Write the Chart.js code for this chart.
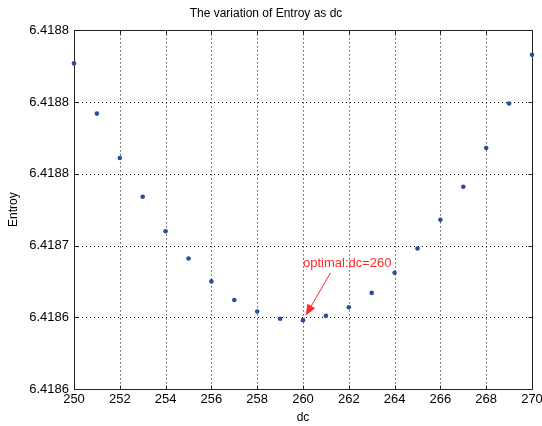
<!DOCTYPE html>
<html><head><meta charset="utf-8">
<script src="https://cdn.jsdelivr.net/npm/chart.js@4/dist/chart.umd.min.js"></script>
<style>html,body{margin:0;padding:0;background:#fff}</style>
</head><body>
<canvas id="c" width="542" height="426"></canvas>
<script>
// ---- data ----
const dcValues = [250,251,252,253,254,255,256,257,258,259,260,261,262,263,264,265,266,267,268,269,270];
const entropyValues = [6.418777,6.418742,6.418711,6.418684,6.418660,6.418641,6.418625,6.418612,6.418604,6.418599,6.418598,6.418601,6.418607,6.418617,6.418631,6.418648,6.418668,6.418691,6.418718,6.418749,6.418783];
const xTickValues = [250,252,254,256,258,260,262,264,266,268,270];
const yTickValues = [6.41855,6.41860,6.41865,6.41870,6.41875,6.41880];
const yTickLabels = ["6.4186","6.4186","6.4187","6.4188","6.4188","6.4188"];
const chartTitle = "The variation of Entroy as dc";
const xLabel = "dc";
const yLabel = "Entroy";
const annotationText = "optimal:dc=260";
const annotationTextAt = [260.0, 6.418635];
const arrowFrom = [261.2, 6.418631];
const arrowTo = [260.12, 6.4186012];

const FONT = "'Liberation Sans', Arial, sans-serif";

const matlabAxes = {
  id: 'matlabAxes',
  beforeDatasetsDraw(chart) {
    const {ctx, chartArea: a, scales: {x, y}} = chart;
    ctx.save();
    ctx.strokeStyle = '#000';
    ctx.lineWidth = 1;
    ctx.setLineDash([1, 3]);
    xTickValues.forEach(v => {
      const px = Math.round(x.getPixelForValue(v)) + 0.5;
      if (px < a.left + 2 || px > a.right - 2) return;
      ctx.beginPath(); ctx.moveTo(px, a.top); ctx.lineTo(px, a.bottom); ctx.stroke();
    });
    yTickValues.forEach(v => {
      const py = Math.round(y.getPixelForValue(v)) + 0.5;
      if (py < a.top + 2 || py > a.bottom - 2) return;
      ctx.beginPath(); ctx.moveTo(a.left, py); ctx.lineTo(a.right, py); ctx.stroke();
    });
    ctx.setLineDash([]);
    ctx.strokeStyle = '#222';
    const L = Math.round(a.left) + 0.5, R = Math.round(a.right) + 0.5,
          T = Math.round(a.top) + 0.5, B = Math.round(a.bottom) + 0.5;
    ctx.strokeRect(L, T, R - L, B - T);
    const tl = 4;
    xTickValues.forEach(v => {
      const px = Math.round(x.getPixelForValue(v)) + 0.5;
      ctx.beginPath(); ctx.moveTo(px, B); ctx.lineTo(px, B - tl);
      ctx.moveTo(px, T); ctx.lineTo(px, T + tl); ctx.stroke();
    });
    yTickValues.forEach(v => {
      const py = Math.round(y.getPixelForValue(v)) + 0.5;
      ctx.beginPath(); ctx.moveTo(L, py); ctx.lineTo(L + tl, py);
      ctx.moveTo(R, py); ctx.lineTo(R - tl, py); ctx.stroke();
    });
    ctx.restore();
  },
  afterDatasetsDraw(chart) {
    const {ctx, scales: {x, y}} = chart;
    ctx.save();
    ctx.fillStyle = '#ff2a2a';
    ctx.strokeStyle = '#ff2a2a';
    ctx.font = "13px " + FONT;
    ctx.textBaseline = 'alphabetic';
    ctx.textAlign = 'left';
    ctx.fillText(annotationText, x.getPixelForValue(annotationTextAt[0]), y.getPixelForValue(annotationTextAt[1]));
    const x1 = x.getPixelForValue(arrowFrom[0]), y1 = y.getPixelForValue(arrowFrom[1]);
    const x2 = x.getPixelForValue(arrowTo[0]), y2 = y.getPixelForValue(arrowTo[1]);
    const ang = Math.atan2(y2 - y1, x2 - x1);
    const hl = 11, hw = 4.5;
    const bx = x2 - hl * Math.cos(ang), by = y2 - hl * Math.sin(ang);
    ctx.lineWidth = 1;
    ctx.beginPath(); ctx.moveTo(x1, y1); ctx.lineTo(bx, by); ctx.stroke();
    ctx.beginPath();
    ctx.moveTo(x2, y2);
    ctx.lineTo(bx + hw * Math.sin(ang), by - hw * Math.cos(ang));
    ctx.lineTo(bx - hw * Math.sin(ang), by + hw * Math.cos(ang));
    ctx.closePath(); ctx.fill();
    ctx.restore();
  }
};

new Chart(document.getElementById('c'), {
  type: 'scatter',
  data: {
    datasets: [{
      data: dcValues.map((d, i) => ({x: d, y: entropyValues[i]})),
      backgroundColor: '#2d4b9f',
      borderColor: '#2d4b9f',
      pointRadius: 2.3,
      pointBorderWidth: 0,
      pointStyle: 'circle',
      clip: false,
      showLine: false
    }]
  },
  options: {
    responsive: false,
    animation: false,
    devicePixelRatio: 1,
    layout: {padding: {left: 0, right: 10, top: 0, bottom: 0}},
    plugins: {
      legend: {display: false},
      tooltip: {enabled: false},
      title: {
        display: true, text: chartTitle, color: '#000',
        font: {family: FONT, size: 12, weight: 'normal'},
        padding: {top: 6, bottom: 10}
      }
    },
    scales: {
      x: {
        type: 'linear', min: 250, max: 270,
        afterBuildTicks: s => { s.ticks = xTickValues.map(v => ({value: v})); },
        afterFit: s => { s.height = 37; s.paddingLeft = 0; s.paddingRight = 0; },
        ticks: {color: '#000', font: {family: FONT, size: 13}, padding: 3, maxRotation: 0, autoSkip: false},
        grid: {display: false, drawTicks: false},
        border: {display: false},
        title: {display: true, text: xLabel, color: '#000', font: {family: FONT, size: 12}, padding: {top: 0, bottom: 1}}
      },
      y: {
        type: 'linear', min: yTickValues[0], max: yTickValues[yTickValues.length - 1],
        afterBuildTicks: s => { s.ticks = yTickValues.map(v => ({value: v})); },
        afterFit: s => { s.width = 74; s.paddingTop = 0; s.paddingBottom = 0; },
        ticks: {color: '#000', font: {family: FONT, size: 13}, padding: 5, autoSkip: false,
                callback: (v, i) => yTickLabels[i]},
        grid: {display: false, drawTicks: false},
        border: {display: false},
        title: {display: true, text: yLabel, color: '#000', font: {family: FONT, size: 12}, padding: {top: 6, bottom: 0}}
      }
    }
  },
  plugins: [matlabAxes]
});
</script>
</body></html>
